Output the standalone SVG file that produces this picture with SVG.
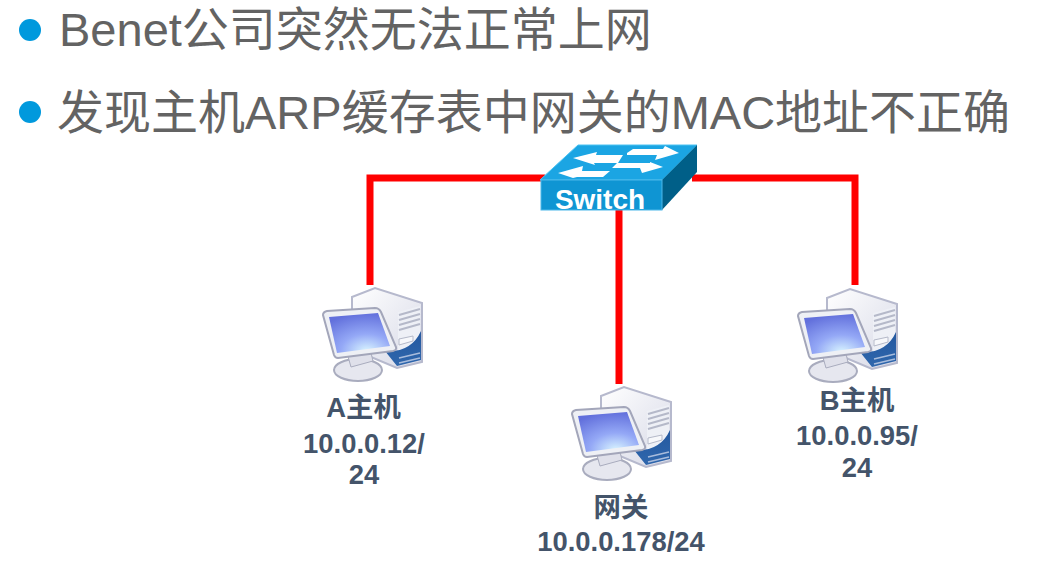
<svg xmlns="http://www.w3.org/2000/svg" width="1058" height="581" viewBox="0 0 1058 581">
<style>
.title{font-family:"Liberation Sans","Noto Sans CJK SC",sans-serif;font-size:47px;fill:#636363}
.label{font-family:"Liberation Sans","Noto Sans CJK SC",sans-serif;font-size:27.4px;font-weight:bold;fill:#44546a;text-anchor:middle}
.bullet{fill:#0099dd}
.link{fill:none;stroke:#ff0000;stroke-width:7}
.arrow{fill:#ffffff}
</style>
<defs>
<linearGradient id="tower" x1="0" y1="0" x2="1" y2="1"><stop offset="0" stop-color="#ffffff"/><stop offset="1" stop-color="#d6d8e6"/></linearGradient>
<radialGradient id="screen" cx="0.62" cy="0.95" r="0.95"><stop offset="0" stop-color="#d8f4ff"/><stop offset="0.45" stop-color="#94a8f6"/><stop offset="1" stop-color="#6270dc"/></radialGradient>
<linearGradient id="base" x1="0" y1="0" x2="0" y2="1"><stop offset="0" stop-color="#24589f"/><stop offset="1" stop-color="#2f67ad"/></linearGradient>
<g id="pc">
<path d="M29 10 L52 1 L99 16 L99 75 L74 81 L29 62 Z" fill="url(#tower)" stroke="#b6b9cd" stroke-width="2"/>
<path d="M75 25 L97 19 L97 60 L75 66 Z" fill="#eef0f6"/>
<path d="M76 28 L97 22 M76 33 L97 27 M76 38 L97 32 M76 43 L97 37" stroke="#b5b9c9" stroke-width="2" fill="none"/>
<path d="M76 52 L90 49 L90 54 L76 58 Z" fill="#f7f8fb" stroke="#b5b9c9"/>
<path d="M62 64 Q88 66 98 44 L98 73 L74 79 Z" fill="url(#base)"/>
<path d="M76 71 L97 66 M76 76 L97 71" stroke="#a8bcdc" stroke-width="1.5"/>
<ellipse cx="35" cy="83" rx="24" ry="11" fill="#e6e7ef" stroke="#a9acbe" stroke-width="2"/>
<path d="M24 66 L47 62 L50 74 L28 80 Z" fill="#dfe0ea" stroke="#a9acbe"/>
<path d="M0 28 Q0 25 4 24 L52 21 Q56 21 58 25 L73 60 Q74 63 70 64 L15 71 Q12 71 11 68 Z" fill="#eef0f5" stroke="#a3a6ba" stroke-width="2"/>
<path d="M6 30 L55 26 L67 59 L14 66 Z" fill="url(#screen)"/>
</g>
</defs>

<g id="bullets">
<circle class="bullet" cx="30" cy="30" r="11"/>
<circle class="bullet" cx="30" cy="112" r="11"/>
</g>
<text class="title" x="59" y="46">Benet公司突然无法正常上网</text>
<text class="title" x="57" y="129">发现主机ARP缓存表中网关的MAC地址不正确</text>

<g id="connectors">
<path class="link" d="M370 285 V178 H545"/>
<path class="link" d="M692 178 H855 V285"/>
<path class="link" d="M619 210 V384"/>
</g>

<g id="switch">
<path d="M540 180 L578 145 L697 145 L662 180 Z" fill="#1ba5e3" stroke="#4cc3f2"/>
<path d="M662 180 L697 145 L697 172 L662 210 Z" fill="#005f88"/>
<rect x="541" y="180" width="121" height="30" fill="#0f95d3" stroke="#4cb8ea"/>
<path class="arrow" d="M573 158 L597 152 L596 155 L623 155 L618 163 L594 163 L595 165 Z"/>
<path class="arrow" d="M558 173 L583 166 L582 171 L610 171 L603 177 L577 177 L573 178 Z"/>
<path class="arrow" d="M627 153 L633 149 L663 149 L665 146 L679 153 L655 160 L657 155 L627 155 Z"/>
<path class="arrow" d="M612 168 L617 163 L650 163 L650 162 L663 167 L642 173 L640 168 Z"/>
<text x="600" y="209" font-family="'Liberation Sans',sans-serif" font-size="28" font-weight="bold" fill="#ffffff" text-anchor="middle">Switch</text>
</g>

<g id="host-a">
<use href="#pc" x="323" y="287"/>
<text class="label" x="363.500" y="417">A主机</text>
<text class="label" x="364" y="453">10.0.0.12/</text>
<text class="label" x="364" y="484">24</text>
</g>
<g id="gateway">
<use href="#pc" x="572" y="386"/>
<text class="label" x="621" y="517">网关</text>
<text class="label" x="621" y="551">10.0.0.178/24</text>
</g>
<g id="host-b">
<use href="#pc" x="798" y="288"/>
<text class="label" x="857" y="410">B主机</text>
<text class="label" x="857" y="445">10.0.0.95/</text>
<text class="label" x="857" y="477">24</text>
</g>
</svg>
